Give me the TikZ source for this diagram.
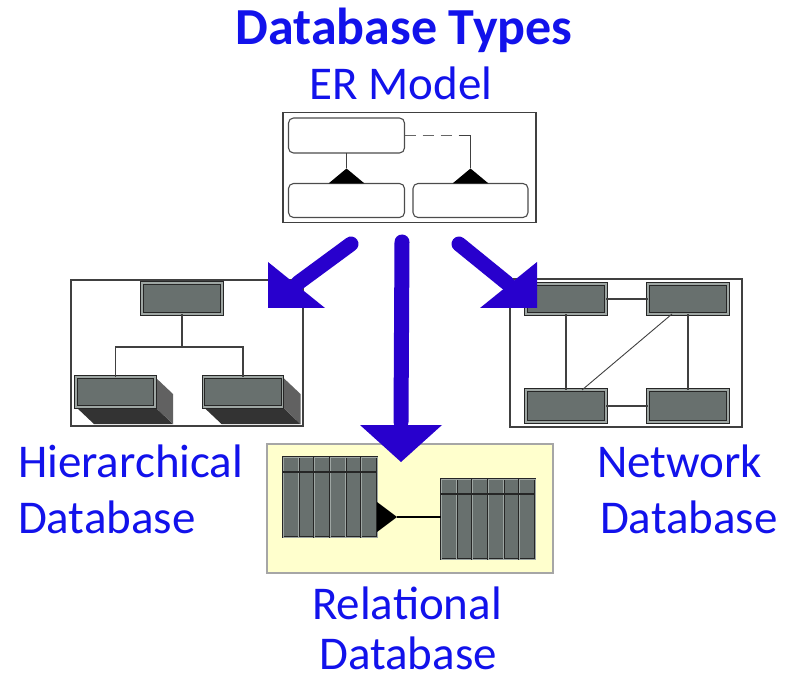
\documentclass[tikz,border=0pt]{standalone}
\usepackage{fontspec}
\setmainfont{Carlito}
\usepackage{tikz}
\usetikzlibrary{positioning,calc,backgrounds,shapes}
\definecolor{dbblue}{RGB}{18,18,235}
\definecolor{arrblue}{RGB}{40,0,205}
\definecolor{recfill}{RGB}{104,112,110}
\definecolor{recedge}{RGB}{158,166,163}
\definecolor{relbg}{RGB}{255,255,205}
\newcommand{\lblfont}{\fontsize{47}{56}\selectfont}

\begin{document}
\begin{tikzpicture}[x=1pt,y=-1pt,line join=miter,
                    every node/.style={inner sep=0pt,outer sep=0pt}]
  \tikzstyle{panel}=[draw=black!75, line width=1.2pt]
  \tikzstyle{entity}=[draw=black!70, line width=1.1pt, fill=white, rounded corners=5pt]
  \tikzstyle{rec}=[draw=black!85, line width=0.9pt, double=recedge, double distance=1.4pt,
                   fill=recfill, minimum width=80, minimum height=31]
  \tikzstyle{col}=[draw=black!85, line width=0.6pt, double=recedge, double distance=0.9pt, fill=recfill]
  \tikzstyle{link}=[draw=black!75, line width=1.1pt]
  \tikzstyle{shaft}=[draw=arrblue, line width=15pt, line cap=round]
  \tikzstyle{head}=[fill=arrblue]
  \tikzstyle{lbl}=[text=dbblue, font=\lblfont]

  \useasboundingbox (0,0) rectangle (793,679);

  % titles
  \node[lbl, font=\bfseries\fontsize{52}{60}\selectfont, anchor=base] (title) at (404,45) {Database Types};
  \node[lbl, anchor=base] (ername) at (401,100) {ER Model};

  % ER model
  \node[panel, minimum width=253, minimum height=110] (er) at (409.5,167.5) {};
  \node[entity, minimum width=116, minimum height=35] (eparent) at (346.5,135.5) {};
  \node[entity, minimum width=116, minimum height=34] (echild) at (346.5,200.5) {};
  \node[entity, minimum width=115, minimum height=34] (eother) at (470.5,200.5) {};
  \fill ($(echild.north)+(-18,0)$) -- ($(echild.north)+(0,-15)$) coordinate (isa1)
        -- ($(echild.north)+(18,0)$) -- cycle;
  \fill ($(eother.north)+(-18,0)$) -- ($(eother.north)+(0,-15)$) coordinate (isa2)
        -- ($(eother.north)+(18,0)$) -- cycle;
  \coordinate (bend) at (eparent.east -| isa2);
  \draw[link] (eparent.south) -- (isa1);
  \draw[link, draw=black!60, dash pattern=on 11pt off 7pt] (eparent.east) -- ($(bend)+(-12,0)$);
  \draw[link] ($(bend)+(-12,0)$) -- (bend) -- (isa2);

  % hierarchical
  \node[panel, minimum width=232, minimum height=146] (hier) at (187,353) {};
  \node[rec] (hroot) at (182,298.5) {};
  \node[rec, minimum width=79, minimum height=30] (hleft) at (115.5,392) {};
  \node[rec, minimum width=79, minimum height=30] (hright) at (243,392) {};
  \begin{scope}[on background layer]
    \foreach \n in {hleft,hright}{
      \fill[black!80] (\n.south west) -- ++(18,17) -- ($(\n.south east)+(18,17)$)
                      -- (\n.south east) -- cycle;
      \fill[black!62] (\n.south east) -- ++(18,17) -- ($(\n.north east)+(18,17)$)
                      -- (\n.north east) -- cycle;
    }
  \end{scope}
  \draw[link] (hroot.south) -- ++(0,33) coordinate (hjoin);
  \draw[link] (hleft.north) |- (hjoin) -| (hright.north);

  % network
  \node[panel, minimum width=232, minimum height=148] (net) at (626,353) {};
  \node[rec, minimum height=30] (nTL) at (566,299) {};
  \node[rec, minimum height=30] (nTR) at (688,299) {};
  \node[rec, minimum height=32] (nBL) at (566,406) {};
  \node[rec, minimum height=32] (nBR) at (688,406) {};
  \draw[link] (nTL) -- (nTR);
  \draw[link] (nBL) -- (nBR);
  \draw[link] (nTL) -- (nBL);
  \draw[link] (nTR) -- (nBR);
  \draw[link, line width=0.9pt] ($(nTR.south)+(-16,0)$) -- ($(nBL.north)+(16,0)$);

  % relational
  \node[draw=black!35, line width=1.2pt, fill=relbg, minimum width=286, minimum height=129] (rel) at (410,508.5) {};
  \node[minimum width=94, minimum height=80] (lt) at (330,497) {};
  \node[minimum width=94, minimum height=80] (rt) at (488,519) {};
  \foreach \t in {lt,rt}{
    \foreach \i in {0,...,5}
      \draw[col] ($(\t.north west)+(\i*15.667,0)$) rectangle ++(15.667,80);
    \draw[black!85, line width=1.3pt] ($(\t.north west)+(0,15)$) -- ($(\t.north east)+(0,15)$);
  }
  \fill ($(lt.east)+(0,5)$) -- ($(lt.east)+(20,20)$) coordinate (fk) -- ($(lt.east)+(0,35)$) -- cycle;
  \draw[link, draw=black] (fk) -- (fk -| rt.west);

  % arrows
  \coordinate (aLs) at (351,244);
  \coordinate (aLe) at (268,308);
  \coordinate (aMs) at (402,242);
  \coordinate (aMe) at (401,462);
  \coordinate (aRs) at (459,244);
  \coordinate (aRe) at (537,308);
  \draw[shaft] (aLs) -- ($(aLe)+(30,-25)$);
  \fill[head] (aLe) -- ++(0,-46) -- ++(57,46) -- cycle;
  \draw[shaft] (aMs) -- ($(aMe)+(0,-40)$);
  \fill[head] (aMe) -- ++(-41,-37) -- ++(82,0) -- cycle;
  \draw[shaft] (aRs) -- ($(aRe)+(-30,-25)$);
  \fill[head] (aRe) -- ++(0,-46) -- ++(-57,46) -- cycle;

  % labels
  \node[lbl, anchor=base west] (hname1) at (18,477) {Hierarchical};
  \node[lbl, anchor=base west] (hname2) at (18,533) {Database};
  \node[lbl, anchor=base west] (nname1) at (597,477) {Network};
  \node[lbl, anchor=base west] (nname2) at (600,533) {Database};
  \node[lbl, anchor=base] (rname1) at (407,619) {Relational};
  \node[lbl, anchor=base] (rname2) at (408,669) {Database};
\end{tikzpicture}
\end{document}
